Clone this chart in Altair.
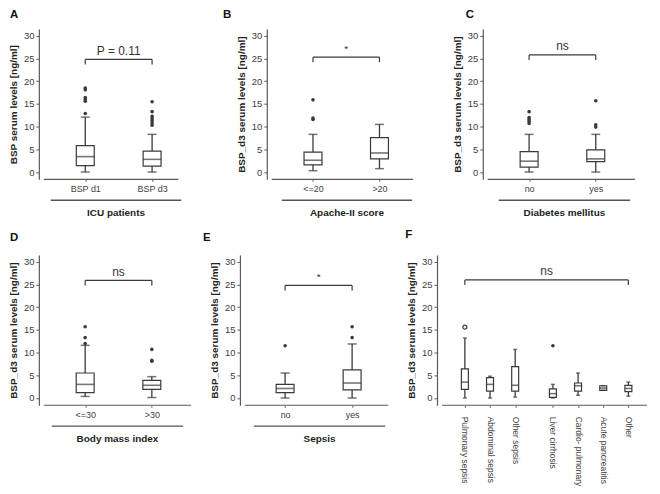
import altair as alt
import pandas as pd

FONT = "Liberation Sans"
LINE = "#3a3a3a"
AXIS = "#5a5a5a"

# ---------------- data ----------------
# Panel A - ICU patients
A_cats = ["BSP d1", "BSP d3"]
A_lower = [0.0, 0.0]
A_q1 = [1.4, 1.3]
A_median = [3.4, 2.8]
A_q3 = [5.8, 4.6]
A_upper = [12.1, 8.3]
A_out_cat = ["BSP d1"] * 6 + ["BSP d3"] * 7
A_out_val = [12.9, 15.6, 16.0, 16.4, 18.1, 18.5, 10.3, 10.8, 11.3, 11.8, 12.3, 13.3, 15.5]

# Panel B - Apache-II score
B_cats = ["<=20", ">20"]
B_lower = [0.3, 0.75]
B_q1 = [1.6, 2.9]
B_median = [2.6, 4.2]
B_q3 = [4.4, 7.6]
B_upper = [8.3, 10.5]
B_out_cat = ["<=20", "<=20", "<=20"]
B_out_val = [11.6, 11.9, 15.9]

# Panel C - Diabetes mellitus
C_cats = ["no", "yes"]
C_lower = [0.0, 0.0]
C_q1 = [1.1, 2.3]
C_median = [2.4, 2.9]
C_q3 = [4.5, 4.9]
C_upper = [8.3, 8.3]
C_out_cat = ["no"] * 5 + ["yes"] * 3
C_out_val = [10.7, 11.2, 11.6, 12.0, 13.3, 9.9, 10.4, 15.7]

# Panel D - Body mass index
D_cats = ["<=30", ">30"]
D_lower = [0.35, 0.1]
D_q1 = [1.2, 1.9]
D_median = [3.0, 2.8]
D_q3 = [5.5, 3.9]
D_upper = [11.6, 4.7]
D_out_cat = ["<=30"] * 3 + [">30"] * 3
D_out_val = [12.0, 13.3, 15.7, 8.1, 8.3, 10.7]

# Panel E - Sepsis
E_cats = ["no", "yes"]
E_lower = [0.0, 0.0]
E_q1 = [1.2, 1.8]
E_median = [2.1, 3.3]
E_q3 = [3.0, 6.2]
E_upper = [5.5, 11.9]
E_out_cat = ["no", "yes", "yes"]
E_out_val = [11.5, 13.3, 15.7]

# Panel F - disease aetiology
F_cats = ["Pulmonary sepsis", "Abdominal sepsis", "Other sepsis", "Liver cirrhosis",
          "Cardio- pulmonary", "Acute pancreatitis", "Other"]
F_lower = [0.0, 0.0, 0.2, 0.0, 0.6, 1.7, 0.4]
F_q1 = [1.9, 1.5, 1.5, 0.15, 1.5, 1.7, 1.4]
F_median = [3.5, 3.0, 2.8, 0.95, 2.7, 2.2, 2.1]
F_q3 = [6.4, 4.5, 6.9, 2.0, 3.3, 2.7, 2.8]
F_upper = [13.2, 4.8, 10.7, 3.0, 5.5, 2.7, 3.5]
F_out_cat = ["Pulmonary sepsis", "Liver cirrhosis"]
F_out_val = [15.6, 11.5]
F_out_open = [True, False]

Y_TICKS = [0, 5, 10, 15, 20, 25, 30]
Y_LO, Y_HI = -1.6, 31.5
H = 151


def panel(letter, letter_xy, cats, pos, lower, q1, med, q3, upper,
          out_cat, out_val, ytitle, sig_text, sig_y, group, group_px,
          width, lo, ppu, axis_px, box_w, cap_w, rotate=False, out_open=None):
    hi = lo + width / ppu
    axis_hi = lo + axis_px / ppu
    df = pd.DataFrame(dict(cat=cats, pos=pos, lower=lower, q1=q1, med=med, q3=q3, upper=upper))
    pmap = dict(zip(cats, pos))
    odf = pd.DataFrame(dict(cat=out_cat, val=out_val,
                            pos=[pmap[c] for c in out_cat],
                            open=out_open if out_open else [False] * len(out_cat)))
    bdf = pd.DataFrame({"x0": [pos[0]], "x1": [pos[-1]], "y": [sig_y],
                        "xm": [(pos[0] + pos[-1]) / 2], "yt": [sig_y + 1.9],
                        "t": [sig_text]})
    edf = pd.DataFrame({"pos": [pos[0], pos[-1]], "y": [sig_y] * 2, "yb": [sig_y - 1.1] * 2})
    adf = pd.DataFrame({"x0": [lo], "x1": [axis_hi], "y": [Y_LO]})
    one = pd.DataFrame({"k": [0]})

    xs = alt.Scale(domain=[lo, hi], nice=False, zero=False)
    ys = alt.Scale(domain=[Y_LO, Y_HI], nice=False, zero=False)
    label_expr = " : ".join(f"datum.value == {p} ? '{c}'" for p, c in zip(pos, cats)) + " : ''"
    xaxis = alt.Axis(values=pos, labelExpr=label_expr, domain=False, grid=False,
                     tickSize=2, tickColor=AXIS, labelColor="#404040", labelFont=FONT,
                     labelFontSize=8.5 if rotate else 9, labelPadding=9 if rotate else 3,
                     labelLimit=300, labelOverlap=False, title=None,
                     labelAngle=90 if rotate else 0,
                     labelAlign="left" if rotate else "center",
                     labelBaseline="middle" if rotate else "top")
    yaxis = alt.Axis(values=Y_TICKS, grid=False, domainColor=AXIS, domainWidth=1.2,
                     tickColor=AXIS, tickSize=3, labelColor="#404040", labelFont=FONT,
                     labelFontSize=9.5, labelPadding=2, title=ytitle, titleFont=FONT,
                     titleFontSize=10, titleFontWeight="bold", titleColor="#222222",
                     titlePadding=5)

    def X(f):
        return alt.X(f, scale=xs, axis=xaxis)

    def Y(f):
        return alt.Y(f, scale=ys, axis=yaxis)

    whisk = alt.Chart(df).mark_rule(color=LINE, strokeWidth=1.3).encode(
        x=X("pos:Q"), y=Y("lower:Q"), y2="upper:Q")
    box = alt.Chart(df).mark_bar(size=box_w, fill="white", stroke=LINE, strokeWidth=1.2,
                                 orient="vertical").encode(x=X("pos:Q"), y=Y("q1:Q"), y2="q3:Q")
    mid = alt.Chart(df).mark_tick(orient="horizontal", size=box_w, thickness=1.6,
                                  color=LINE).encode(x=X("pos:Q"), y=Y("med:Q"))
    cap_lo = alt.Chart(df).mark_tick(orient="horizontal", size=cap_w, thickness=1.5,
                                     color=LINE).encode(x=X("pos:Q"), y=Y("lower:Q"))
    cap_hi = alt.Chart(df).mark_tick(orient="horizontal", size=cap_w, thickness=1.5,
                                     color=LINE).encode(x=X("pos:Q"), y=Y("upper:Q"))
    pts_f = alt.Chart(odf).transform_filter("!datum.open").mark_circle(
        size=13, color=LINE, opacity=1).encode(x=X("pos:Q"), y=Y("val:Q"))
    pts_o = alt.Chart(odf).transform_filter("datum.open").mark_point(
        size=16, color=LINE, filled=False, strokeWidth=1.2, opacity=1).encode(
        x=X("pos:Q"), y=Y("val:Q"))

    br = alt.Chart(bdf).mark_rule(color=LINE, strokeWidth=1.2).encode(
        x=X("x0:Q"), x2="x1:Q", y=Y("y:Q"))
    br_ends = alt.Chart(edf).mark_rule(color=LINE, strokeWidth=1.2).encode(
        x=X("pos:Q"), y=Y("y:Q"), y2="yb:Q")
    sig = alt.Chart(bdf).mark_text(font=FONT, fontSize=12 if sig_text != "*" else 10,
                                   color="#333333", baseline="middle").encode(
        x=X("xm:Q"), y=Y("yt:Q"), text="t:N")
    xline = alt.Chart(adf).mark_rule(color=AXIS, strokeWidth=1.2).encode(
        x=X("x0:Q"), x2="x1:Q", y=Y("y:Q"))
    let = alt.Chart(one).mark_text(font=FONT, fontSize=11.5, fontWeight="bold", align="left",
                                   baseline="middle", color="#111111").encode(
        x=alt.value(letter_xy[0]), y=alt.value(letter_xy[1]), text=alt.value(letter))

    layers = [whisk, box, mid, cap_lo, cap_hi, pts_f, pts_o, br, br_ends, sig, xline, let]
    if group:
        g0, g1 = group_px
        gl = alt.Chart(one).mark_rule(color="#555555", strokeWidth=1.4).encode(
            x=alt.value(g0), x2=alt.value(g1), y=alt.value(172))
        gt = alt.Chart(one).mark_text(font=FONT, fontSize=10, fontWeight="bold",
                                      color="#222222", baseline="middle").encode(
            x=alt.value((g0 + g1) / 2), y=alt.value(185), text=alt.value(group))
        layers += [gl, gt]
    return alt.layer(*layers).properties(width=width, height=H)


P2 = [0, 1]
PF = [0, 1, 2, 3.5, 4.5, 5.5, 6.5]

pA = panel("A", (-29, -14), A_cats, P2, A_lower, A_q1, A_median, A_q3, A_upper,
           A_out_cat, A_out_val, "BSP serum levels [ng/ml]", "P = 0.11", 24.8,
           "ICU patients", (12, 143), 164, -0.62, 71.5, 144, 18, 9)
pB = panel("B", (-44, -14), B_cats, P2, B_lower, B_q1, B_median, B_q3, B_upper,
           B_out_cat, B_out_val, "BSP_d3 serum levels [ng/ml]", "*", 25.3,
           "Apache-II score", (15, 146), 152, -0.62, 71.5, 152, 18, 9)
pC = panel("C", (-17, -14), C_cats, P2, C_lower, C_q1, C_median, C_q3, C_upper,
           C_out_cat, C_out_val, "BSP_d3 serum levels [ng/ml]", "ns", 25.8,
           "Diabetes mellitus", (16, 148), 158, -0.62, 71.5, 158, 18, 9)
pD = panel("D", (-29, -17), D_cats, P2, D_lower, D_q1, D_median, D_q3, D_upper,
           D_out_cat, D_out_val, "BSP_d3 serum levels [ng/ml]", "ns", 25.9,
           "Body mass index", (13, 145), 158, -0.62, 71.5, 158, 18, 9)
pE = panel("E", (-37, -17), E_cats, P2, E_lower, E_q1, E_median, E_q3, E_upper,
           E_out_cat, E_out_val, "BSP_d3 serum levels [ng/ml]", "*", 24.8,
           "Sepsis", (14, 146), 154, -0.6, 72, 154, 18, 9)
pF = panel("F", (-32, -20), F_cats, PF, F_lower, F_q1, F_median, F_q3, F_upper,
           F_out_cat, F_out_val, "BSP_d3 serum levels [ng/ml]", "ns", 26.0,
           None, None, 216, -0.91, 26.5, 216, 7, 4, rotate=True, out_open=F_out_open)

row1 = alt.hconcat(pA, pB, pC, spacing=65, bounds="flush")
row2 = alt.hconcat(pD, pE, pF, spacing=44, bounds="flush")

chart = alt.vconcat(row1, row2, spacing=11).properties(
    padding=0, background="white"
).configure_view(strokeWidth=0)

chart.save("out.html", embed_options={"renderer": "svg", "actions": False})
